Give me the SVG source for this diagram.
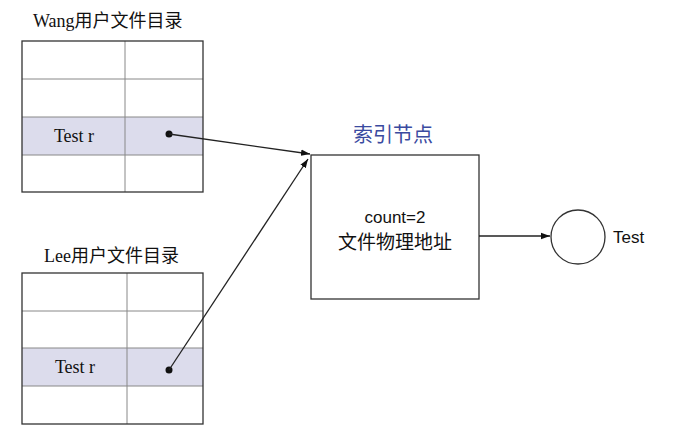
<svg xmlns="http://www.w3.org/2000/svg" width="679" height="439" viewBox="0 0 679 439">
<style>
.serif{font-family:"Liberation Serif","Noto Sans CJK SC",serif;font-size:18px;fill:#111}
.sans{font-family:"Liberation Sans","Noto Sans CJK SC",sans-serif;font-size:17px;fill:#111}
.outer{fill:none;stroke:#333;stroke-width:1.3}
.inner{stroke:#888;stroke-width:1}
.hl{fill:#dcdcec}
.con{stroke:#222;stroke-width:1.3;fill:none;marker-end:url(#ah)}
</style>
<defs>
<marker id="ah" viewBox="0 0 10 10" refX="10" refY="5" markerWidth="9" markerHeight="9" markerUnits="userSpaceOnUse" orient="auto"><path d="M0,1.5 L10,5 L0,8.5 Z" fill="#111"/></marker>
</defs>
<rect width="679" height="439" fill="#fff"/>
<g id="wang">
<text class="serif" x="33" y="27">Wang用户文件目录</text>
<rect class="hl" x="22" y="117" width="181" height="38"/>
<line class="inner" x1="22" y1="79" x2="203" y2="79"/>
<line class="inner" x1="22" y1="117" x2="203" y2="117"/>
<line class="inner" x1="22" y1="155" x2="203" y2="155"/>
<line class="inner" x1="125" y1="41" x2="125" y2="192"/>
<rect class="outer" x="22" y="41" width="181" height="151"/>
<text class="serif" x="74" y="142" text-anchor="middle">Test r</text>
</g>
<g id="lee">
<text class="serif" x="44" y="262">Lee用户文件目录</text>
<rect class="hl" x="22" y="348" width="181" height="38"/>
<line class="inner" x1="22" y1="311" x2="203" y2="311"/>
<line class="inner" x1="22" y1="348" x2="203" y2="348"/>
<line class="inner" x1="22" y1="386" x2="203" y2="386"/>
<line class="inner" x1="127" y1="273" x2="127" y2="424"/>
<rect class="outer" x="22" y="273" width="181" height="151"/>
<text class="serif" x="75" y="373" text-anchor="middle">Test r</text>
</g>
<g id="inode">
<text x="393" y="142" text-anchor="middle" style="font-family:'Noto Sans CJK SC',sans-serif;font-size:20px;fill:#3a4aa0">索引节点</text>
<rect class="outer" x="311" y="155" width="168" height="144"/>
<text class="sans" x="395" y="223" text-anchor="middle">count=2</text>
<text x="395" y="249" text-anchor="middle" style="font-family:'Noto Sans CJK SC',sans-serif;font-size:19px;fill:#111">文件物理地址</text>
</g>
<g id="file">
<circle cx="578" cy="237" r="27" fill="#fff" stroke="#333" stroke-width="1.3"/>
<text class="sans" x="613" y="243">Test</text>
</g>
<g id="connectors">
<circle cx="169" cy="134" r="3.5" fill="#111"/>
<circle cx="169" cy="370" r="3.5" fill="#111"/>
<line class="con" x1="169" y1="134" x2="310" y2="154"/>
<line class="con" x1="169" y1="370" x2="308" y2="159"/>
<line class="con" x1="479" y1="236" x2="550" y2="236"/>
</g>
</svg>
